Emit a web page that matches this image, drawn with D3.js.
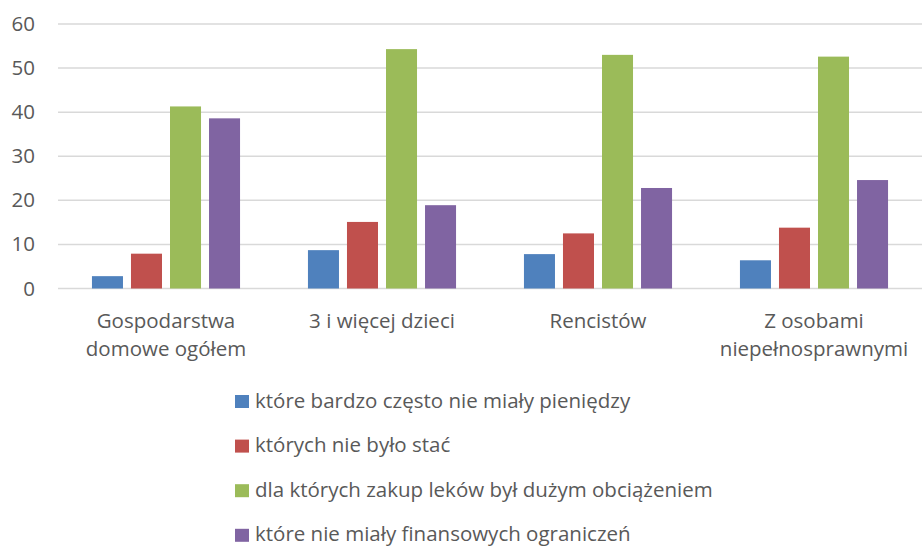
<!DOCTYPE html>
<html>
<head>
<meta charset="utf-8">
<script src="https://cdn.jsdelivr.net/npm/d3@7"></script>
<style>
  body { margin: 0; background: #fff; }
  text { font-family: "Open Sans", sans-serif; fill: #595959; }
</style>
</head>
<body>
<div class="chart"></div>
<script>
;(function() {
  const width = 923
  const height = 547
  const margin = { left: 58, right: 1, top: 24, bottom: 259 }
  const fontSize = 20.5

  // data
  const categories = [
    ["Gospodarstwa", "domowe ogółem"],
    ["3 i więcej dzieci"],
    ["Rencistów"],
    ["Z osobami", "niepełnosprawnymi"]
  ]
  const seriesNames = [
    "które bardzo często nie miały pieniędzy",
    "których nie było stać",
    "dla których zakup leków był dużym obciążeniem",
    "które nie miały finansowych ograniczeń"
  ]
  const seriesColors = ["#4f81bd", "#c0504d", "#9bbb59", "#8064a2"]
  const bardzoCzesto = [2.8, 8.7, 7.8, 6.4]
  const nieStac = [7.9, 15.1, 12.5, 13.8]
  const obciazenie = [41.3, 54.3, 53.0, 52.6]
  const bezOgraniczen = [38.6, 18.9, 22.8, 24.6]
  const yTicks = [0, 10, 20, 30, 40, 50, 60]

  const series = [bardzoCzesto, nieStac, obciazenie, bezOgraniczen]
  const catKeys = categories.map(c => c.join(" "))

  const $svg = d3
    .select(".chart")
    .append("svg")
    .attr("width", width)
    .attr("height", height)

  const x0 = d3
    .scaleBand()
    .domain(catKeys)
    .range([margin.left, width - margin.right])
  const x1 = d3
    .scaleBand()
    .domain(d3.range(series.length))
    .range([0, x0.bandwidth()])
    .paddingInner(0.205)
    .paddingOuter(0.87)
  const y = d3
    .scaleLinear()
    .domain([0, 60])
    .range([height - margin.bottom + 0.5, margin.top])

  // gridlines
  $svg
    .append("g")
    .selectAll("line")
    .data(yTicks)
    .enter()
    .append("line")
    .attr("x1", margin.left)
    .attr("x2", width - margin.right)
    .attr("y1", d => y(d))
    .attr("y2", d => y(d))
    .attr("stroke", "#d9d9d9")
    .attr("stroke-width", 1.5)

  // y labels
  const $yAxis = $svg
    .append("g")
    .attr("transform", `translate(${margin.left - 23}, 0)`)
    .call(d3.axisLeft(y).tickValues(yTicks).tickSize(0).tickPadding(0))
  $yAxis.select(".domain").remove()
  $yAxis
    .selectAll("text")
    .attr("font-size", fontSize)
    .attr("fill", "#595959")
    .attr("font-family", "'Open Sans', sans-serif")

  // bars
  const $groups = $svg
    .append("g")
    .selectAll("g")
    .data(catKeys)
    .enter()
    .append("g")
    .attr("transform", d => `translate(${x0(d)}, 0)`)

  $groups
    .selectAll("rect")
    .data((d, ci) => series.map((s, si) => ({ si, v: s[ci] })))
    .enter()
    .append("rect")
    .attr("x", d => x1(d.si))
    .attr("width", x1.bandwidth())
    .attr("y", d => y(d.v))
    .attr("height", d => y(0) - y(d.v))
    .attr("fill", d => seriesColors[d.si])

  // category labels
  const $cats = $svg
    .append("g")
    .selectAll("text")
    .data(categories)
    .enter()
    .append("text")
    .attr("x", (d, i) => x0(catKeys[i]) + x0.bandwidth() / 2)
    .attr("y", 328)
    .attr("text-anchor", "middle")
    .attr("font-size", fontSize)
  $cats
    .selectAll("tspan")
    .data(d => d)
    .enter()
    .append("tspan")
    .attr("x", function() { return d3.select(this.parentNode).attr("x") })
    .attr("dy", (d, i) => (i === 0 ? 0 : 27.5))
    .text(d => d)

  // legend
  const $legend = $svg
    .append("g")
    .selectAll("g")
    .data(seriesNames)
    .enter()
    .append("g")
    .attr("transform", (d, i) => `translate(235, ${401.5 + i * 44.6})`)
  $legend
    .append("rect")
    .attr("x", 0)
    .attr("y", -6.5)
    .attr("width", 14)
    .attr("height", 13)
    .attr("fill", (d, i) => seriesColors[i])
  $legend
    .append("text")
    .attr("x", 20)
    .attr("y", 6)
    .attr("font-size", fontSize)
    .text(d => d)
})()
</script>
</body>
</html>
